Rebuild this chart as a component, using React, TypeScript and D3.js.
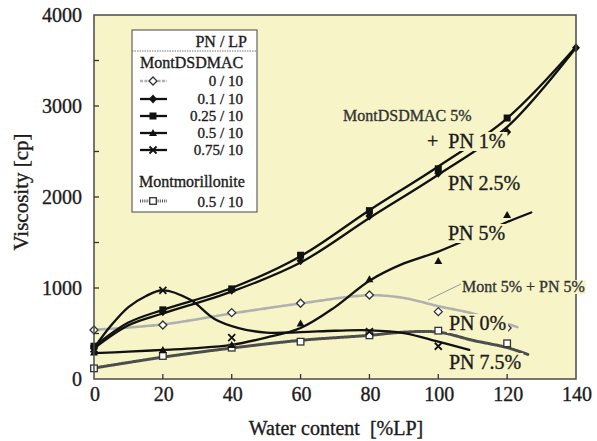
import React, { useLayoutEffect, useRef, useState } from "react";
import * as d3 from "d3";

// ---------- data ----------
const xTicks = [0, 20, 40, 60, 80, 100, 120, 140];
const yTicks = [0, 1000, 2000, 3000, 4000];
const yMinorTicks = [500, 1000, 1500, 2000, 2500, 3000, 3500];

// measured points (markers)
const pts00 = [[0, 538], [20, 593], [40, 729], [60, 832], [80, 923], [100, 740], [120, 560]];
const pts01 = [[0, 340], [20, 740], [40, 975], [60, 1300], [80, 1790], [100, 2260], [120, 2714], [140, 3640]];
const pts025 = [[0, 360], [20, 760], [40, 990], [60, 1360], [80, 1850], [100, 2310], [120, 2868]];
const pts05 = [[0, 290], [20, 320], [40, 375], [60, 611], [80, 1096], [100, 1297], [120, 1802]];
const pts075 = [[0, 330], [20, 975], [40, 455], [80, 520], [100, 360]];
const ptsMont = [[0, 117], [20, 253], [40, 344], [60, 410], [80, 480], [100, 531], [120, 392]];

// fitted curves
const curve00 = [[0, 540], [20, 600], [40, 720], [60, 830], [80, 920], [90, 890], [100, 800], [110, 720], [123, 570]];
const curve01 = [[0, 335], [10, 590], [20, 720], [40, 960], [60, 1280], [80, 1770], [100, 2245], [120, 2770], [140, 3640]];
const curve025 = [[0, 355], [10, 620], [20, 760], [40, 1000], [60, 1350], [80, 1855], [100, 2335], [120, 2865], [140, 3650]];
const curve05 = [[0, 285], [10, 300], [20, 320], [30, 340], [40, 375], [50, 455], [60, 560], [70, 790], [80, 1080], [90, 1270], [100, 1400], [110, 1560], [120, 1725], [127, 1830]];
const curve075 = [[0, 340], [5, 590], [10, 790], [15, 910], [20, 975], [28, 870], [35, 660], [42, 560], [50, 510], [60, 515], [70, 530], [80, 535], [90, 505], [100, 410], [109, 320]];
const curveMont = [[0, 120], [20, 240], [40, 340], [60, 425], [80, 480], [90, 515], [100, 515], [110, 425], [120, 345], [126, 270]];

const legendRows = ["0 / 10", "0.1 / 10", "0.25 / 10", "0.5 / 10", "0.75/ 10"];
const legendMont = "0.5 / 10";

// ---------- layout ----------
const W = 597, H = 441;
const X0 = 94, X1 = 576, Y0 = 379, Y1 = 15;
const BG = "#f7f5c8";
const FONT = "Liberation Serif, DejaVu Serif, Times New Roman, serif";
const INK = "#1c1c1c";

const x = d3.scaleLinear().domain([0, 140]).range([X0, X1]);
const y = d3.scaleLinear().domain([0, 4000]).range([Y0, Y1]);
const line = d3.line<number[]>().x(d => x(d[0])).y(d => y(d[1])).curve(d3.curveCatmullRom.alpha(0.5));

const STY = {
  gray: { stroke: "#b0b0b0", strokeWidth: 2.6, strokeDasharray: "3 1.4" },
  black: { stroke: "#111", strokeWidth: 2.3 },
  mont: { stroke: "#4d4d4d", strokeWidth: 3, strokeDasharray: "1 1.2" },
};

function Marker({ kind, cx, cy }: { kind: string; cx: number; cy: number }) {
  const s = 4;
  if (kind === "odiamond")
    return <path d={`M${cx},${cy - s}L${cx + s},${cy}L${cx},${cy + s}L${cx - s},${cy}Z`} fill="#fff" stroke="#333" strokeWidth={1.3} />;
  if (kind === "diamond")
    return <path d={`M${cx},${cy - s - 0.5}L${cx + s},${cy}L${cx},${cy + s + 0.5}L${cx - s},${cy}Z`} fill="#111" />;
  if (kind === "square")
    return <rect x={cx - 3.5} y={cy - 3.5} width={7} height={7} fill="#111" />;
  if (kind === "triangle")
    return <path d={`M${cx},${cy - 4}L${cx + 4},${cy + 3}L${cx - 4},${cy + 3}Z`} fill="#111" />;
  if (kind === "x")
    return <path d={`M${cx - 3.5},${cy - 3.5}L${cx + 3.5},${cy + 3.5}M${cx + 3.5},${cy - 3.5}L${cx - 3.5},${cy + 3.5}`} stroke="#111" strokeWidth={1.8} />;
  if (kind === "osquare")
    return <rect x={cx - 3.3} y={cy - 3.3} width={6.6} height={6.6} fill="#fff" stroke="#333" strokeWidth={1.3} />;
  return null;
}

const txt = (size: number, extra: any = {}) => ({
  fontSize: size, fill: INK, stroke: extra.fill || INK, strokeWidth: 0.35,
  style: { fontFamily: FONT, whiteSpace: "pre" as const }, ...extra,
});

function Label({ tx, ty, text, size, color = INK, pad = 2, anchor = "start" }: any) {
  const ref = useRef<SVGTextElement>(null);
  const [box, setBox] = useState<any>(null);
  useLayoutEffect(() => {
    if (ref.current) {
      const b = ref.current.getBBox();
      setBox({ x: b.x, y: b.y, w: b.width, h: b.height });
    }
  }, [text, tx, ty, size]);
  return (
    <g>
      {box && <rect x={box.x - pad} y={box.y + 2} width={box.w + pad * 2} height={box.h - 3} fill={BG} />}
      <text ref={ref} x={tx} y={ty} textAnchor={anchor} {...txt(size, { fill: color, stroke: color })}>
        {text}
      </text>
    </g>
  );
}

export default function App() {
  const series = [
    { c: curve00, p: pts00, sty: STY.gray, m: "odiamond" },
    { c: curveMont, p: ptsMont, sty: STY.mont, m: "osquare" },
    { c: curve075, p: pts075, sty: STY.black, m: "x" },
    { c: curve05, p: pts05, sty: STY.black, m: "triangle" },
    { c: curve01, p: pts01, sty: STY.black, m: "diamond" },
    { c: curve025, p: pts025, sty: STY.black, m: "square" },
  ];
  const legendSym = [
    { sty: STY.gray, m: "odiamond" },
    { sty: STY.black, m: "diamond" },
    { sty: STY.black, m: "square" },
    { sty: STY.black, m: "triangle" },
    { sty: STY.black, m: "x" },
  ];
  const rowY = [86, 104, 121, 138, 155];
  return (
    <svg width={W} height={H} style={{ position: "absolute", left: 0, top: 0, background: "#fff" }}>
      <rect x={X0} y={Y1} width={X1 - X0} height={Y0 - Y1} fill={BG} />
      {series.map((s, i) => (
        <path key={"c" + i} d={line(s.c as any) || ""} fill="none" {...(s.sty as any)} strokeLinecap="round" />
      ))}
      {series.map((s, i) =>
        s.p.map((d, j) => <Marker key={`m${i}-${j}`} kind={s.m} cx={x(d[0])} cy={y(d[1])} />)
      )}
      {/* frame */}
      <rect x={X0} y={Y1} width={X1 - X0} height={Y0 - Y1} fill="none" stroke="#4a4a4a" strokeWidth={1.5} />
      {xTicks.filter(t => t > 0 && t < 140).map(t => (
        <line key={"xt" + t} x1={x(t)} x2={x(t)} y1={Y0} y2={Y0 - 5} stroke="#333" strokeWidth={1.3} />
      ))}
      {yMinorTicks.map(t => (
        <line key={"yt" + t} x1={X0} x2={X0 + 5} y1={y(t)} y2={y(t)} stroke="#333" strokeWidth={1.3} />
      ))}
      {xTicks.map(t => (
        <text key={"xl" + t} x={x(t) + 1} y={401} textAnchor="middle" {...txt(20)}>{t}</text>
      ))}
      {yTicks.map(t => (
        <text key={"yl" + t} x={82} y={y(t) + 7} textAnchor="end" {...txt(20)}>{t}</text>
      ))}
      <text x={336} y={435} textAnchor="middle" {...txt(20)}>Water content  [%LP]</text>
      <text transform="translate(28,192) rotate(-90)" textAnchor="middle" {...txt(21)}>Viscosity [cp]</text>

      {/* in-plot labels */}
      <Label tx={343} ty={121} text="MontDSDMAC 5%" size={16} color="#333" />
      <Label tx={427} ty={148} text="+  PN 1%" size={20} />
      <Label tx={448} ty={190} text="PN 2.5%" size={20} />
      <Label tx={448} ty={240} text="PN 5%" size={20} />
      <line x1={461} y1={284} x2={428} y2={300} stroke="#999" strokeWidth={1} />
      <Label tx={462} ty={292} text="Mont 5% + PN 5%" size={16} color="#333" pad={1} />
      <Label tx={449} ty={330} text="PN 0%" size={20} />
      <Label tx={449} ty={369} text="PN 7.5%" size={20} />

      {/* legend */}
      <rect x={132} y={30} width={125} height={182} fill="#fff" stroke="#444" strokeWidth={1} />
      <text x={247} y={47} textAnchor="end" {...txt(16)}>PN / LP</text>
      <line x1={132} x2={257} y1={51} y2={51} stroke="#777" strokeWidth={1} strokeDasharray="1.5 1" />
      <text x={140} y={68} {...txt(16)}>MontDSDMAC</text>
      {legendRows.map((r, i) => (
        <g key={"lg" + i}>
          <line x1={140} x2={167} y1={rowY[i] - 5} y2={rowY[i] - 5} {...(legendSym[i].sty as any)} />
          <Marker kind={legendSym[i].m} cx={153} cy={rowY[i] - 5} />
          <text x={243} y={rowY[i]} textAnchor="end" {...txt(15)}>{r}</text>
        </g>
      ))}
      <text x={139} y={187} {...txt(16)}>Montmorillonite</text>
      <line x1={140} x2={167} y1={201} y2={201} {...(STY.mont as any)} />
      <Marker kind="osquare" cx={153} cy={201} />
      <text x={243} y={207} textAnchor="end" {...txt(15)}>{legendMont}</text>
    </svg>
  );
}
